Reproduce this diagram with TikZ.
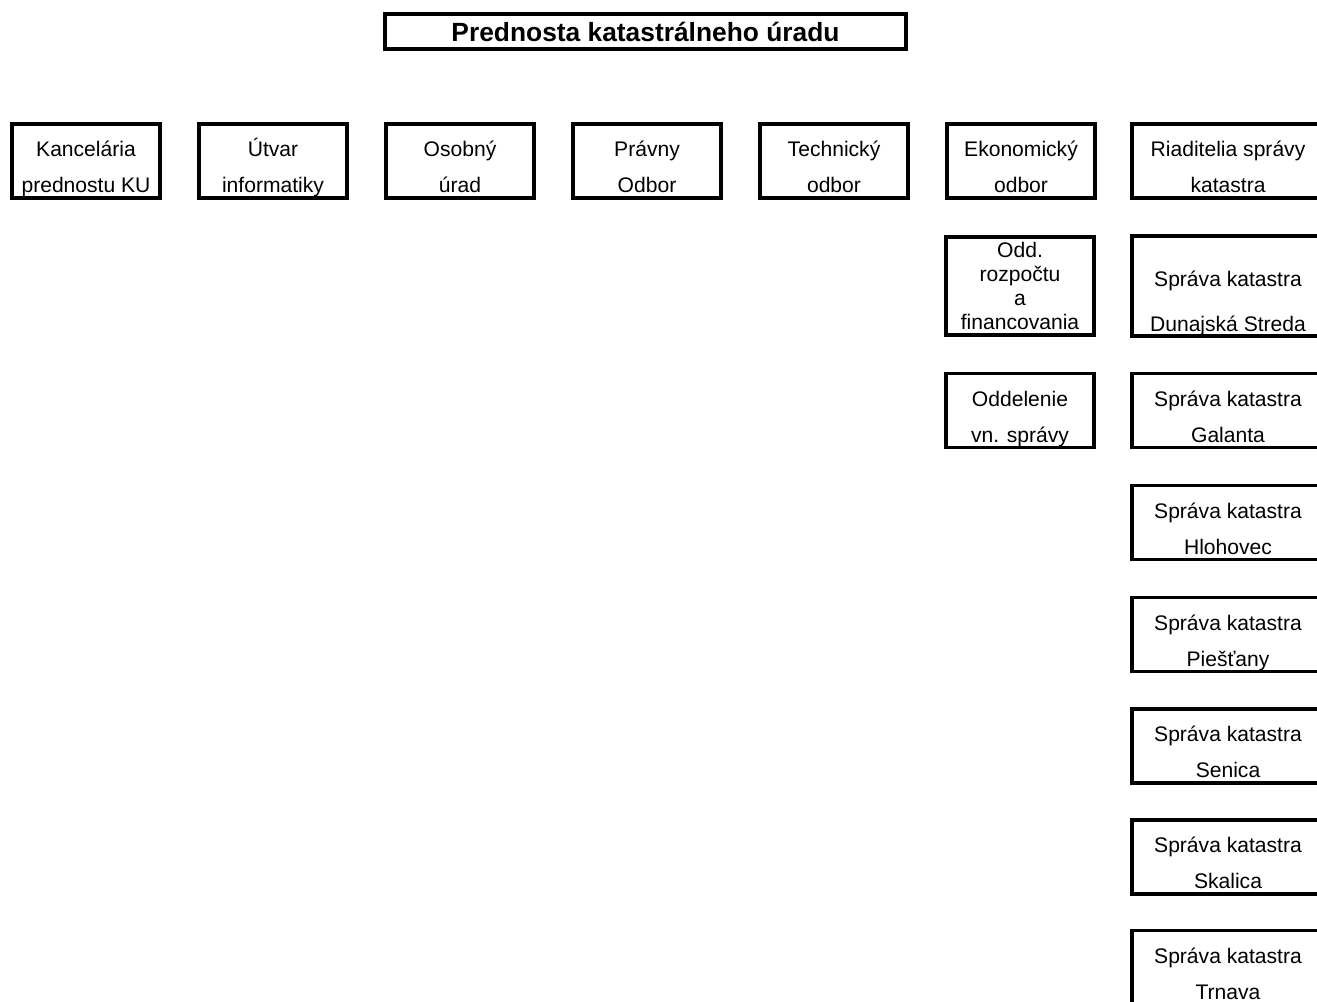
\documentclass[tikz,border=0pt]{standalone}
\usepackage{fontspec}
\setmainfont{Liberation Sans}

% two lines of a box, with fixed line heights
\newcommand{\twoline}[2]{\rule{0pt}{18.6pt}#1\\#2\rule[-3pt]{0pt}{3pt}}

\begin{document}
\begin{tikzpicture}[x=0.02cm,y=-0.02cm,
    unit/.style={draw,line width=2pt,align=center,inner sep=0pt,
        font=\fontsize{12pt}{20.5pt}\selectfont,
        minimum width=2.97cm,minimum height=1.41cm},
    wideunit/.style={unit,minimum width=3.85cm}]

   % Page
   \useasboundingbox (0,0) rectangle (1317,1001);

   % Head of the office
   \node[unit,font=\fontsize{15pt}{18pt}\selectfont\bfseries,
         minimum width=10.43cm,minimum height=0.71cm]
        (prednosta) at (645.5,31.5) {Prednosta katastr\'alneho \'uradu};

   % First row
   \foreach \i/\nm/\rowa/\rowb in {0/kancelaria/Kancelária/prednostu KU,
                                   1/utvar/Útvar/informatiky,
                                   2/osobny/Osobný/úrad,
                                   3/pravny/Právny/Odbor,
                                   4/technicky/Technický/odbor,
                                   5/ekonomicky/Ekonomický/odbor}
       \node[unit] (\nm) at (86+187*\i,161) {\twoline{\rowa}{\rowb}};

   % Departments of the economic section
   \node[unit,minimum height=1.97cm,font=\fontsize{12pt}{13.66pt}\selectfont]
        (rozpocet) at (1020,286) {Odd.\\rozpočtu\\a\\financovania};
   \node[unit,minimum height=1.43cm] (vnsprava) at (1020,410.5)
        {\twoline{Oddelenie}{vn. správy}};

   % Cadastral administrations
   \node[wideunit] (riaditelia) at (1228,161) {\twoline{Riaditelia správy}{katastra}};
   \node[wideunit,minimum height=1.97cm,font=\fontsize{12pt}{25.6pt}\selectfont]
        (dunajska) at (1228,286) {\rule{0pt}{29pt}Správa katastra\\Dunajská Streda};
   \foreach \y/\nm/\town in {410.5/galanta/Galanta, 522.5/hlohovec/Hlohovec,
                             634.5/piestany/Piešťany, 746/senica/Senica,
                             857/skalica/Skalica, 967.5/trnava/Trnava}
       \node[wideunit] (\nm) at (1228,\y) {\twoline{Správa katastra}{\town}};

\end{tikzpicture}
\end{document}
